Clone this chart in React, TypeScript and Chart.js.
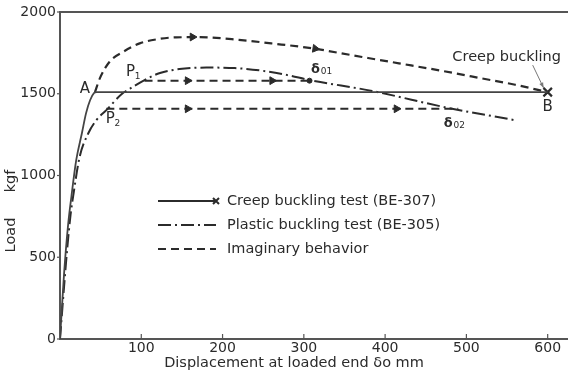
import React, { useEffect, useRef } from "react";
import { Chart, registerables } from "chart.js";

Chart.register(...registerables);

// ---- data (displacement mm, load kgf) ----
const xTickValues = [100, 200, 300, 400, 500, 600];
const yTickValues = [0, 500, 1000, 1500, 2000];

const creepPoints: [number, number][] = [
  [0, 0], [5, 400], [10, 700], [14, 870], [20, 1095], [27, 1260], [32, 1380],
  [37, 1460], [42, 1505], [45, 1510], [600, 1510],
];
const creepBucklingPoint: [number, number][] = [[600, 1510]];

const plasticPoints: [number, number][] = [
  [0, 0], [5, 320], [9, 560], [13, 760], [17, 900], [24, 1110], [35, 1260],
  [45, 1340], [57, 1400], [76, 1498], [90, 1543], [104, 1584], [123, 1627],
  [147, 1651], [180, 1660], [215, 1657], [250, 1640], [280, 1614], [307, 1584],
  [384, 1517], [478, 1413], [558, 1340],
];

const imaginaryUpper: [number, number][] = [
  [43, 1510], [49, 1594], [61, 1696], [78, 1757], [98, 1808], [119, 1833],
  [143, 1845], [172, 1846], [220, 1830], [260, 1808], [310, 1778], [360, 1735],
  [417, 1686], [470, 1640], [519, 1594], [560, 1555], [600, 1510],
];
const imaginaryP1: [number, number][] = [[104, 1580], [307, 1580]];
const imaginaryP2: [number, number][] = [[57, 1408], [490, 1408]];

const arrowPoints: [number, number][] = [
  [163, 1847], [314, 1776], [157, 1580], [261, 1580], [157, 1408], [414, 1408],
];
const arrowRotations = [90, 98, 90, 90, 90, 90];

const delta01Point: [number, number][] = [[307, 1580]];

const legendLabels = [
  "Creep buckling test (BE-307)",
  "Plastic buckling test (BE-305)",
  "Imaginary behavior",
];

const FONT = "'DejaVu Sans', 'Liberation Sans', sans-serif";
const INK = "#2b2b2b";
const AXIS = "#555";
const DASH = [8, 5];
const DASHDOT = [13, 4, 2, 4];

const toXY = (pts: [number, number][]) => pts.map(([x, y]) => ({ x, y }));

const annotPlugin = {
  id: "annot",
  afterDraw(chart: any) {
    const { ctx, chartArea: ca, scales } = chart;
    const xs = scales.x, ys = scales.y;
    const px = (v: number) => xs.getPixelForValue(v);
    const py = (v: number) => ys.getPixelForValue(v);
    ctx.save();

    // top frame line
    ctx.strokeStyle = AXIS;
    ctx.lineWidth = 2;
    ctx.setLineDash([]);
    ctx.beginPath();
    ctx.moveTo(ca.left, ca.top);
    ctx.lineTo(ca.right, ca.top);
    ctx.stroke();

    // tick marks
    ctx.lineWidth = 1.2;
    for (const v of yTickValues) {
      const y = py(v);
      ctx.beginPath();
      ctx.moveTo(ca.left - 3, y);
      ctx.lineTo(ca.left, y);
      ctx.stroke();
    }
    for (const v of xTickValues) {
      const x = px(v);
      ctx.beginPath();
      ctx.moveTo(x, ca.bottom);
      ctx.lineTo(x, ca.bottom - 5);
      ctx.stroke();
    }

    ctx.fillStyle = INK;
    ctx.textBaseline = "middle";
    ctx.textAlign = "center";

    // axis titles
    ctx.font = `14.5px ${FONT}`;
    ctx.fillText("Displacement at loaded end \u03B4o mm", ca.left + 234, ca.bottom + 24);
    ctx.save();
    ctx.translate(11, 0);
    ctx.rotate(-Math.PI / 2);
    ctx.fillText("Load", -235, 0);
    ctx.fillText("kgf", -181, 0);
    ctx.restore();

    // point labels
    const [ax, ay] = [43, 1510];
    ctx.font = `15px ${FONT}`;
    ctx.fillText("A", px(ax) - 10, py(ay) - 3);

    const [p1x, p1y] = imaginaryP1[0];
    ctx.fillText("P", px(p1x) - 14, py(p1y) - 9);
    ctx.font = `9px ${FONT}`;
    ctx.fillText("1", px(p1x) - 7, py(p1y) - 4);

    const [p2x, p2y] = imaginaryP2[0];
    ctx.font = `15px ${FONT}`;
    ctx.fillText("P", px(p2x) + 4, py(p2y) + 10);
    ctx.font = `9px ${FONT}`;
    ctx.fillText("2", px(p2x) + 11, py(p2y) + 15);

    const [d1x, d1y] = delta01Point[0];
    ctx.font = `bold 13px ${FONT}`;
    ctx.fillText("\u03B4", px(d1x) + 6, py(d1y) - 11);
    ctx.font = `9px ${FONT}`;
    ctx.fillText("01", px(d1x) + 17, py(d1y) - 9);

    const [d2x, d2y] = imaginaryP2[1];
    ctx.font = `bold 13px ${FONT}`;
    ctx.fillText("\u03B4", px(d2x) - 10, py(d2y) + 15);
    ctx.font = `9px ${FONT}`;
    ctx.fillText("02", px(d2x) + 1, py(d2y) + 17);

    const [bx, by] = creepBucklingPoint[0];
    const bX = px(bx), bY = py(by);
    ctx.font = `15px ${FONT}`;
    ctx.fillText("B", bX, bY + 15);
    ctx.font = `14.5px ${FONT}`;
    ctx.fillText("Creep buckling", bX - 41, bY - 35);

    // pointer arrow to B
    ctx.strokeStyle = "#777";
    ctx.fillStyle = "#777";
    ctx.lineWidth = 1;
    const sx = bX - 15, sy = bY - 27, ex = bX - 4, ey = bY - 4;
    ctx.beginPath();
    ctx.moveTo(sx, sy);
    ctx.lineTo(ex, ey);
    ctx.stroke();
    const ang = Math.atan2(ey - sy, ex - sx);
    ctx.beginPath();
    ctx.moveTo(ex, ey);
    ctx.lineTo(ex - 6 * Math.cos(ang - 0.35), ey - 6 * Math.sin(ang - 0.35));
    ctx.lineTo(ex - 6 * Math.cos(ang + 0.35), ey - 6 * Math.sin(ang + 0.35));
    ctx.closePath();
    ctx.fill();

    // legend
    const lx = ca.left + 98, ly = ca.top + 189, gap = 24, len = 58;
    ctx.strokeStyle = INK;
    ctx.fillStyle = INK;
    ctx.font = `14.5px ${FONT}`;
    ctx.textAlign = "left";
    const dashes = [[], DASHDOT, DASH];
    legendLabels.forEach((lab, i) => {
      const yy = ly + i * gap;
      ctx.lineWidth = 2;
      ctx.setLineDash(dashes[i] as number[]);
      ctx.beginPath();
      ctx.moveTo(lx, yy);
      ctx.lineTo(lx + len, yy);
      ctx.stroke();
      ctx.setLineDash([]);
      if (i === 0) {
        ctx.lineWidth = 2;
        ctx.beginPath();
        ctx.moveTo(lx + len - 3, yy - 3);
        ctx.lineTo(lx + len + 3, yy + 3);
        ctx.moveTo(lx + len - 3, yy + 3);
        ctx.lineTo(lx + len + 3, yy - 3);
        ctx.stroke();
      }
      ctx.fillText(lab, lx + 69, yy);
    });

    ctx.restore();
  },
};

export default function App() {
  const ref = useRef<HTMLCanvasElement>(null);

  useEffect(() => {
    document.body.style.margin = "0";
    const canvas = ref.current;
    if (!canvas) return;
    const lineBase = {
      pointRadius: 0,
      fill: false,
      borderColor: INK,
      cubicInterpolationMode: "monotone" as const,
    };
    const chart = new Chart(canvas, {
      type: "scatter",
      data: {
        datasets: [
          { ...lineBase, data: toXY(creepPoints), showLine: true, borderWidth: 1.8, borderColor: "#444" },
          {
            data: toXY(creepBucklingPoint), showLine: false, pointStyle: "crossRot",
            pointRadius: 6, pointBorderWidth: 2.2, borderColor: INK, backgroundColor: INK,
          },
          { ...lineBase, data: toXY(plasticPoints), showLine: true, borderWidth: 2, borderDash: DASHDOT },
          { ...lineBase, data: toXY(imaginaryUpper), showLine: true, borderWidth: 2.2, borderDash: DASH },
          { ...lineBase, data: toXY(imaginaryP1), showLine: true, borderWidth: 2, borderDash: DASH },
          { ...lineBase, data: toXY(imaginaryP2), showLine: true, borderWidth: 2, borderDash: DASH },
          {
            data: toXY(arrowPoints), showLine: false, pointStyle: "triangle",
            pointRadius: 4.5, rotation: arrowRotations, backgroundColor: INK, borderColor: INK, pointBorderWidth: 1,
          },
          {
            data: toXY(delta01Point), showLine: false, pointStyle: "circle",
            pointRadius: 2.5, backgroundColor: INK, borderColor: INK,
          },
        ] as any,
      },
      options: {
        responsive: false,
        animation: false,
        devicePixelRatio: 1,
        layout: { autoPadding: false, padding: { top: 12, right: 0, left: 0, bottom: 0 } },
        plugins: { legend: { display: false }, tooltip: { enabled: false } },
        scales: {
          x: {
            type: "linear",
            min: 0,
            max: 625,
            afterFit: (s: any) => { s.height = 37; s.paddingRight = 0; s.paddingLeft = 0; },
            grid: { display: false, drawTicks: false },
            border: { display: true, color: AXIS, width: 2 },
            ticks: {
              stepSize: 100,
              includeBounds: false,
              padding: 1,
              color: INK,
              font: { family: FONT, size: 14 },
              maxRotation: 0,
              callback: (v: any) => (v === 0 ? "" : xTickValues.includes(v) ? String(v) : ""),
            },
          },
          y: {
            type: "linear",
            min: 0,
            max: 2000,
            afterFit: (s: any) => { s.width = 60; s.paddingTop = 0; s.paddingBottom = 0; },
            grid: { display: false, drawTicks: false },
            border: { display: true, color: AXIS, width: 2 },
            ticks: {
              stepSize: 500,
              padding: 4,
              color: INK,
              font: { family: FONT, size: 14 },
              callback: (v: any) => (yTickValues.includes(v) ? String(v) : ""),
            },
          },
        },
      },
      plugins: [annotPlugin],
    });
    return () => chart.destroy();
  }, []);

  return (
    <div style={{ width: 568, height: 376, background: "#fff" }}>
      <canvas ref={ref} width={568} height={376} style={{ display: "block" }} />
    </div>
  );
}
